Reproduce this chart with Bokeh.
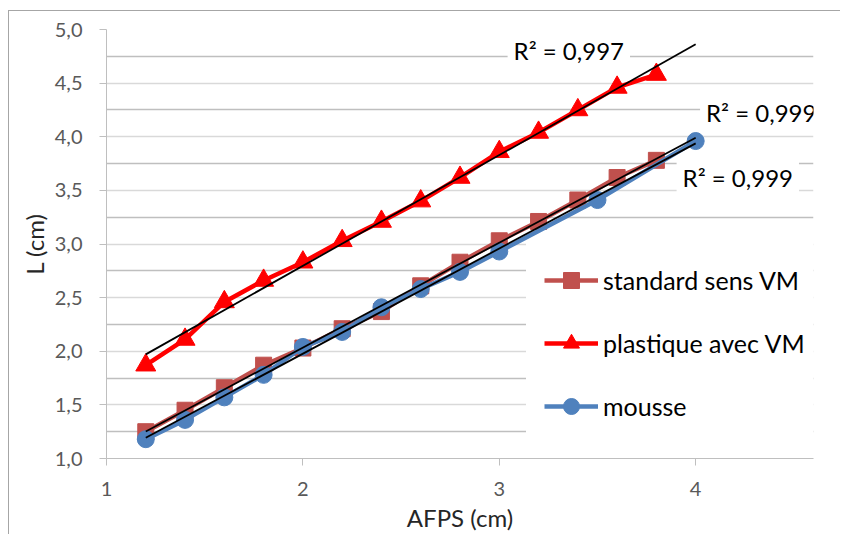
from bokeh.plotting import figure
from bokeh.models import FixedTicker, Label, Legend, LegendItem, Range1d
from bokeh.embed import file_html
from bokeh.resources import INLINE
import numpy as np

# ---- data ----
x_standard = [1.2, 1.4, 1.6, 1.8, 2.0, 2.2, 2.4, 2.6, 2.8, 3.0, 3.2, 3.4, 3.6, 3.8]
y_standard = [1.25, 1.45, 1.66, 1.87, 2.03, 2.21, 2.37, 2.61, 2.83, 3.03, 3.21, 3.41, 3.62, 3.78]

x_plastique = [1.2, 1.4, 1.6, 1.8, 2.0, 2.2, 2.4, 2.6, 2.8, 3.0, 3.2, 3.4, 3.6, 3.8]
y_plastique = [1.87, 2.11, 2.46, 2.66, 2.83, 3.03, 3.21, 3.40, 3.62, 3.86, 4.04, 4.25, 4.46, 4.58]

x_mousse = [1.2, 1.4, 1.6, 1.8, 2.0, 2.2, 2.4, 2.6, 2.8, 3.0, 3.5, 4.0]
y_mousse = [1.18, 1.36, 1.57, 1.78, 2.04, 2.18, 2.41, 2.58, 2.74, 2.93, 3.41, 3.96]

series_names = ["standard sens VM", "plastique avec VM", "mousse"]
r2_texts = ["R² = 0,997", "R² = 0,999", "R² = 0,999"]
trend_end = 4.0

x_ticks = [1, 2, 3, 4]
x_tick_labels = ["1", "2", "3", "4"]
y_ticks = [1.0, 1.5, 2.0, 2.5, 3.0, 3.5, 4.0, 4.5, 5.0]
y_tick_labels = ["1,0", "1,5", "2,0", "2,5", "3,0", "3,5", "4,0", "4,5", "5,0"]
y_minor = [1.25, 1.75, 2.25, 2.75, 3.25, 3.75, 4.25, 4.75]

FONT = "Lato"

p = figure(width=832, height=524, output_backend="svg", toolbar_location=None,
           x_range=Range1d(1, 4.6), y_range=Range1d(1, 5),
           min_border_left=97, min_border_right=28, min_border_top=18, min_border_bottom=77)
p.outline_line_color = None
p.background_fill_color = "white"
p.border_fill_color = "white"
# outer chart border: only its left and top edges are visible in the picture
p.styles = {"margin-left": "8px", "margin-top": "10px",
            "border-left": "1px solid #a6a6a6", "border-top": "1px solid #a6a6a6"}

# axes
p.xaxis.ticker = FixedTicker(ticks=x_ticks)
p.xaxis.major_label_overrides = {t: l for t, l in zip(x_ticks, x_tick_labels)}
p.yaxis.ticker = FixedTicker(ticks=y_ticks, minor_ticks=y_minor)
p.yaxis.major_label_overrides = {t: l for t, l in zip(y_ticks, y_tick_labels)}
for ax in (p.xaxis[0], p.yaxis[0]):
    ax.axis_line_color = "#bfbfbf"
    ax.major_tick_line_color = "#bfbfbf"
    ax.major_tick_in = 0
    ax.major_tick_out = 7
    ax.minor_tick_line_color = None
    ax.major_label_text_font = FONT
    ax.major_label_text_font_size = "20px"
    ax.major_label_text_color = "#595959"
    ax.axis_label_text_font = FONT
    ax.axis_label_text_font_size = "24px"
    ax.axis_label_text_font_style = "normal"
    ax.axis_label_text_color = "#262626"
p.xaxis.axis_label = "AFPS (cm)"
p.yaxis.axis_label = "L (cm)"
p.xaxis.major_label_standoff = 16
p.yaxis.major_label_standoff = 17
p.xaxis.axis_label_standoff = 4
p.yaxis.axis_label_standoff = 3

p.xgrid.grid_line_color = None
p.ygrid.ticker = FixedTicker(ticks=y_ticks, minor_ticks=y_minor)
p.ygrid.grid_line_color = "#d9d9d9"
p.ygrid.minor_grid_line_color = "#bfbfbf"
p.ygrid.grid_line_width = 1.3
p.ygrid.minor_grid_line_width = 1.3

# series
c_std, c_pla, c_mou = "#c0504d", "#ff0000", "#4f81bd"
lw = 4.5
l1 = p.line(x_standard, y_standard, line_color=c_std, line_width=lw)
s1 = p.scatter(x_standard, y_standard, marker="square", size=16, fill_color=c_std, line_color=c_std)
l2 = p.line(x_plastique, y_plastique, line_color=c_pla, line_width=lw)
s2 = p.scatter(x_plastique, y_plastique, marker="triangle", size=20, fill_color=c_pla, line_color=c_pla)
l3 = p.line(x_mousse, y_mousse, line_color=c_mou, line_width=lw)
s3 = p.scatter(x_mousse, y_mousse, marker="circle", size=17, fill_color=c_mou, line_color=c_mou)

# linear trendlines (least squares on each series), forecast to trend_end
for xs, ys in ((x_standard, y_standard), (x_plastique, y_plastique), (x_mousse, y_mousse)):
    a, b = np.polyfit(xs, ys, 1)
    xt = [xs[0], trend_end]
    p.line(xt, [a * v + b for v in xt], line_color="black", line_width=1.8)

# R² labels
for txt, (lx, ly) in zip(r2_texts, [(3.354, 4.804), (4.334, 4.226), (4.2145, 3.62)]):
    p.add_layout(Label(x=lx, y=ly, text=txt, text_align="center", text_baseline="middle",
                       text_font=FONT, text_font_size="24px", text_color="black",
                       background_fill_color="white", padding=6))

legend = Legend(items=[LegendItem(label=series_names[0], renderers=[l1, s1]),
                       LegendItem(label=series_names[1], renderers=[l2, s2]),
                       LegendItem(label=series_names[2], renderers=[l3, s3])],
                location=(420, 14), padding=17, spacing=23, margin=0,
                glyph_width=54, glyph_height=40, label_height=40, label_standoff=5,
                label_text_font=FONT, label_text_font_size="25px", label_text_color="black",
                background_fill_color="white", background_fill_alpha=1.0,
                border_line_color="white")
p.add_layout(legend, "center")

open("out.html", "w").write(file_html(p, INLINE))
